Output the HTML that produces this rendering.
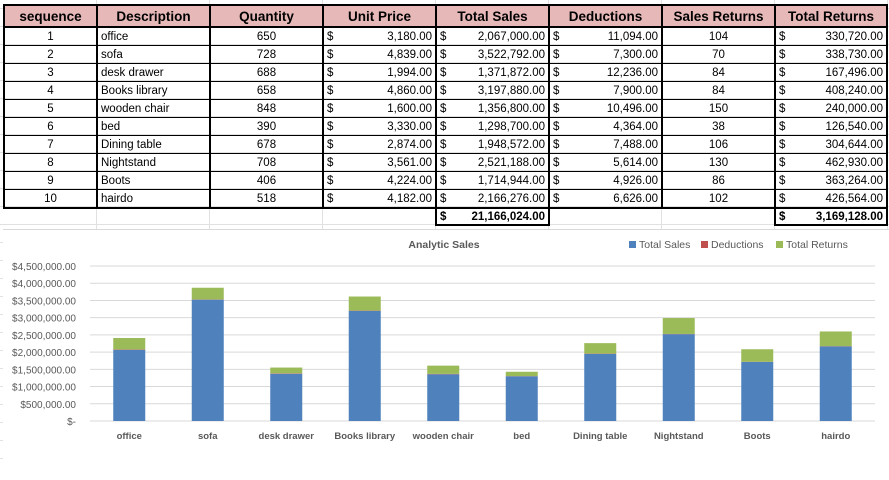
<!DOCTYPE html>
<html><head><meta charset="utf-8"><style>
body{margin:0;width:889px;height:474px;overflow:hidden;background:#fff;font-family:"Liberation Sans",sans-serif;position:relative}
.grid{position:absolute;left:0;top:0;width:889px;height:474px;
background-image:linear-gradient(#e1e1e1 1px,transparent 1px),linear-gradient(90deg,#e1e1e1 1px,transparent 1px);
background-size:113px 18px;background-position:96px 8px}
table{position:absolute;left:3px;top:4px;border-collapse:collapse;table-layout:fixed;font-size:11.5px;color:#000}
td,th{height:17px;padding:0 3px;border:1px solid #000;border-left:2px solid #000;border-right:2px solid #000;white-space:nowrap;overflow:hidden}
th{background:#e6b8b8;font-size:13.5px;height:20px;border:2px solid #000}
.c{text-align:center}.m{display:flex;justify-content:space-between}
tbody tr:nth-child(10) td{border-bottom:2px solid #000}
tr.tot td{border:none;height:15px}
tr.tot td.b{border:2px solid #000;font-weight:bold}
#chart{position:absolute;left:3px;top:229px;width:886px;height:245px;background:#fff;border-top:1px solid #d9d9d9}
</style></head><body>
<div class="grid"></div>
<table>
<colgroup><col style="width:93px"><col style="width:113px"><col style="width:113px"><col style="width:113px"><col style="width:113px"><col style="width:113px"><col style="width:113px"><col style="width:112px"></colgroup>
<thead><tr><th>sequence</th><th>Description</th><th>Quantity</th><th>Unit Price</th><th>Total Sales</th><th>Deductions</th><th>Sales Returns</th><th>Total Returns</th></tr></thead>
<tbody id="tb"></tbody>
</table>
<div id="chart">
<svg id="svg" width="886" height="245"></svg>
</div>
<script>
const categories=["office","sofa","desk drawer","Books library","wooden chair","bed","Dining table","Nightstand","Boots","hairdo"];
const quantity=[650,728,688,658,848,390,678,708,406,518];
const unitPrice=["3,180.00","4,839.00","1,994.00","4,860.00","1,600.00","3,330.00","2,874.00","3,561.00","4,224.00","4,182.00"];
const totalSales=[2067000,3522792,1371872,3197880,1356800,1298700,1948572,2521188,1714944,2166276];
const deductions=[11094,7300,12236,7900,10496,4364,7488,5614,4926,6626];
const salesReturns=[104,70,84,84,150,38,106,130,86,102];
const totalReturns=[330720,338730,167496,408240,240000,126540,304644,462930,363264,426564];
const yTicks=[0,500000,1000000,1500000,2000000,2500000,3000000,3500000,4000000,4500000];
const fmt=v=>v.toLocaleString('en-US',{minimumFractionDigits:2,maximumFractionDigits:2});
const tb=document.getElementById('tb');
categories.forEach((c,i)=>{
 const tr=document.createElement('tr');
 
 
 tr.innerHTML=`<td class="c">${i+1}</td><td>${c}</td><td class="c">${quantity[i]}</td><td><div class="m"><span>$</span><span>${unitPrice[i]}</span></div></td><td><div class="m"><span>$</span><span>${fmt(totalSales[i])}</span></div></td><td><div class="m"><span>$</span><span>${fmt(deductions[i])}</span></div></td><td class="c">${salesReturns[i]}</td><td><div class="m"><span>$</span><span>${fmt(totalReturns[i])}</span></div></td>`;
 tb.appendChild(tr);
});
const tt=document.createElement('tr');tt.className='tot';


const sumS=totalSales.reduce((a,b)=>a+b,0),sumR=totalReturns.reduce((a,b)=>a+b,0);
tt.innerHTML=`<td></td><td></td><td></td><td></td><td class="b"><div class="m"><span>$</span><span>${fmt(sumS)}</span></div></td><td></td><td></td><td class="b"><div class="m"><span>$</span><span>${fmt(sumR)}</span></div></td>`;
tb.appendChild(tt);

const NS='http://www.w3.org/2000/svg',svg=document.getElementById('svg');
const X0=87,X1=872,Y0=191,YMAX=4500000,H=155;
const y=v=>Y0-v/YMAX*H;
const step=(X1-X0)/categories.length;
const xc=i=>X0+step*(i+0.5);
function el(t,a,txt){const e=document.createElementNS(NS,t);for(const k in a)e.setAttribute(k,a[k]);if(txt!=null)e.textContent=txt;svg.appendChild(e);return e;}
yTicks.forEach(v=>{
 const g=el('line',{x1:X0,x2:X1,y1:y(v),y2:y(v),stroke:'#d9d9d9','stroke-width':1});
 
 
 const t=el('text',{x:73,y:y(v)+4,'text-anchor':'end','font-size':'10px',fill:'#595959'},v===0?'$-':'$'+fmt(v));
 
 
});
const bw=32;
categories.forEach((c,i)=>{
 let base=0;
 [[totalSales,'#4f81bd','total-sales'],[deductions,'#c0504d','deductions'],[totalReturns,'#9bbb59','total-returns']].forEach(([arr,col,nm])=>{
  const r=el('rect',{x:xc(i)-bw/2,y:y(base+arr[i]),width:bw,height:y(base)-y(base+arr[i]),fill:col});
  
  
  base+=arr[i];
 });
 const t=el('text',{x:xc(i),y:209,'text-anchor':'middle','font-size':'9.5px','font-weight':'bold',fill:'#595959'},c);
 
 
});
const ti=el('text',{x:441,y:18,'text-anchor':'middle','font-size':'10.5px','font-weight':'bold',fill:'#595959'},'Analytic Sales');


[['Total Sales','#4f81bd',626],['Deductions','#c0504d',698],['Total Returns','#9bbb59',773]].forEach(([n,c,x])=>{
 const r=el('rect',{x:x,y:11,width:7,height:7,fill:c});
 
 
 const t=el('text',{x:x+10,y:18,'font-size':'10.5px',fill:'#595959'},n);
 
 
});
</script>
</body></html>
